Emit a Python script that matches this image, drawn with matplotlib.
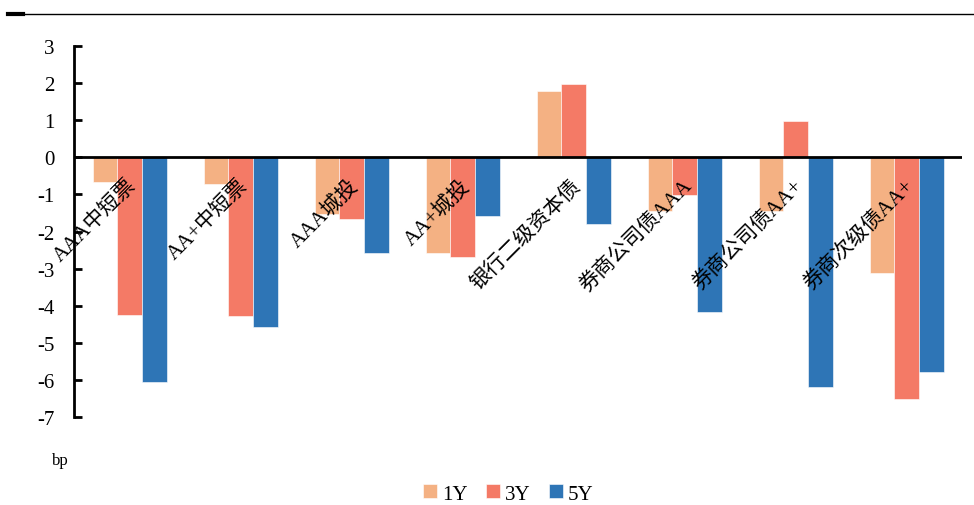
import numpy as np
import matplotlib
matplotlib.use("Agg")
import matplotlib.pyplot as plt
from matplotlib.lines import Line2D

plt.rcParams['font.family'] = ['Liberation Serif', 'Noto Sans CJK SC']
plt.rcParams['axes.unicode_minus'] = False

categories = ['AAA中短票', 'AA+中短票', 'AAA城投', 'AA+城投', '银行二级资本债',
              '券商公司债AAA', '券商公司债AA+', '券商次级债AA+']
y1 = [-0.67, -0.73, -1.54, -2.57, 1.79, -1.46, -1.46, -3.13]
y3 = [-4.26, -4.28, -1.65, -2.68, 1.97, -1.02, 0.98, -6.52]
y5 = [-6.05, -4.58, -2.58, -1.58, -1.79, -4.16, -6.18, -5.79]
series = ['1Y', '3Y', '5Y']
colors = ['#F4B183', '#F47A66', '#2E75B6']

fig = plt.figure(figsize=(9.74, 5.06), dpi=100)
ax = fig.add_axes([0.076, 0.174, 0.912, 0.733])

x = np.arange(len(categories))
w = 0.222
for i, (vals, name, c) in enumerate(zip([y1, y3, y5], series, colors)):
    ax.bar(x + (i - 1) * w, vals, width=w, color=c, label=name,
           edgecolor='white', linewidth=0.4)

ax.set_xlim(-0.5, len(categories) - 0.5)
ax.set_ylim(-7, 3)
ax.set_yticks(range(-7, 4))
ax.axhline(0, color='black', linewidth=2, zorder=3)

for s in ['top', 'right', 'bottom']:
    ax.spines[s].set_visible(False)
ax.spines['left'].set_linewidth(2)
ax.tick_params(axis='y', direction='in', length=6, width=2, labelsize=15, pad=14)
ax.tick_params(axis='x', bottom=False, labelbottom=False)

# category labels hanging below the zero line
for xi, lab in zip(x, categories):
    ax.annotate(lab, xy=(xi, 0), xytext=(8, -13), textcoords='offset points',
                rotation=45, ha='right', va='top', fontsize=15)

fig.text(0.053, 0.082, 'bp', fontsize=12)

handles, labels = ax.get_legend_handles_labels()
fig.legend(handles, labels, loc='center', bbox_to_anchor=(0.522, 0.022), ncol=3,
           frameon=False, fontsize=15, handlelength=0.65, handleheight=0.65,
           handletextpad=0.25, columnspacing=0.9)

# header rule
fig.add_artist(Line2D([0.008, 1.0], [0.970, 0.970], color='black', linewidth=1))
fig.add_artist(Line2D([0.008, 0.024], [0.970, 0.970], color='black', linewidth=3))

fig.savefig('out.png', dpi=100)
